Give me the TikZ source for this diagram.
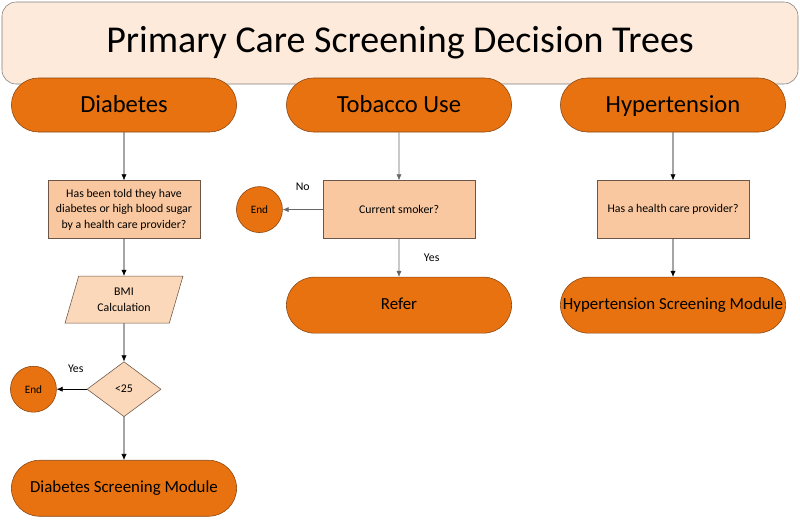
\documentclass[tikz,border=0pt]{standalone}
\usepackage{fontspec}
\setmainfont{Carlito}
\usepackage{tikz}
\usetikzlibrary{positioning, shapes.geometric, shapes.misc, arrows.meta}

\definecolor{titlefill}{HTML}{FDEADA}
\definecolor{pillorange}{HTML}{E8720F}
\definecolor{pilledge}{HTML}{8A4510}
\definecolor{qfill}{HTML}{F9C8A0}
\definecolor{dfill}{HTML}{FCD8BA}
\definecolor{qedge}{HTML}{6E5646}

\begin{document}
\begin{tikzpicture}[
    node distance=1cm and 1cm,
    % --- STYLES ---
    base_node/.style={draw, align=center, inner sep=1pt, text=black},
    titlebox/.style={base_node, draw=gray, fill=titlefill, rounded corners=10pt, minimum width=19.9cm, minimum height=2.05cm, font=\fontsize{27}{30}\selectfont},
    header/.style={base_node, rounded rectangle, draw=pilledge, fill=pillorange, minimum width=5.7cm, minimum height=1.35cm, text height=2.3ex, text depth=0.1ex, font=\fontsize{17.5}{20}\selectfont},
    module/.style={header, minimum height=1.4cm, text height=1.8ex, text depth=0.4ex, font=\fontsize{12}{14}\selectfont},
    question/.style={base_node, draw=qedge, fill=qfill, minimum width=3.8cm, minimum height=1.45cm, font=\fontsize{8.4}{11}\selectfont},
    calc/.style={base_node, draw=qedge, fill=dfill, trapezium, trapezium left angle=72, trapezium right angle=108, trapezium stretches=true, minimum width=2.95cm, minimum height=1.175cm, font=\fontsize{8.4}{11}\selectfont},
    decision/.style={base_node, draw=qedge, fill=dfill, diamond, inner sep=0pt, minimum width=1.85cm, minimum height=1.375cm, font=\fontsize{8.4}{11}\selectfont},
    terminal/.style={base_node, circle, draw=pilledge, fill=pillorange, minimum size=1.15cm, font=\fontsize{8}{10}\selectfont},
    answer/.style={font=\fontsize{8.4}{10}\selectfont},
    >={Latex[length=1.5mm,width=1.3mm]}
]
\useasboundingbox (0,0) rectangle (20,-12.975);

% --- TITLE AND BRANCH HEADERS ---
\node (title) [titlebox] at (10,-1.075) {Primary Care Screening Decision Trees};
\node (diabetes) [header] at (3.1,-2.625) {Diabetes};
\node (tobacco) [header] at (9.975,-2.625) {Tobacco Use};
\node (hypertension) [header] at (16.825,-2.625) {Hypertension};

% --- DIABETES BRANCH ---
\node (diab_q) [question, below=1.2cm of diabetes] {Has been told they have\\diabetes or high blood sugar\\by a health care provider?};
\node (bmi) [calc, below=0.925cm of diab_q] {BMI\\Calculation};
\node (bmi_check) [decision, below=0.95cm of bmi] {<25};
\node (diab_end) [terminal, left=0.75cm of bmi_check] {End};
\node (diab_module) [module, below=1.075cm of bmi_check] {Diabetes Screening Module};

% --- TOBACCO BRANCH ---
\node (smoker_q) [question, below=1.2cm of tobacco] {Current smoker?};
\node (tob_end) [terminal, left=1cm of smoker_q] {End};
\node (refer) [module, below=0.95cm of smoker_q] {Refer};

% --- HYPERTENSION BRANCH ---
\node (hyp_q) [question, below=1.2cm of hypertension] {Has a health care provider?};
\node (hyp_module) [module, below=0.95cm of hyp_q] {Hypertension Screening Module};

% Edges (Arrows)
\draw [->] (diabetes) -- (diab_q);
\draw [->] (diab_q) -- (bmi);
\draw [->] (bmi) -- (bmi_check);
\draw [->] (bmi_check) -- (diab_end) node[midway, above=3mm, xshift=1mm, answer] {Yes};
\draw [->] (bmi_check) -- (diab_module);
\draw [->, draw=gray!80!black] (tobacco) -- (smoker_q);
\draw [->, draw=gray!80!black] (smoker_q) -- (tob_end) node[midway, above=3.5mm, answer] {No};
\draw [->, draw=gray!80!black] (smoker_q) -- (refer) node[midway, right=5mm, answer] {Yes};
\draw [->] (hypertension) -- (hyp_q);
\draw [->] (hyp_q) -- (hyp_module);

\end{tikzpicture}
\end{document}
